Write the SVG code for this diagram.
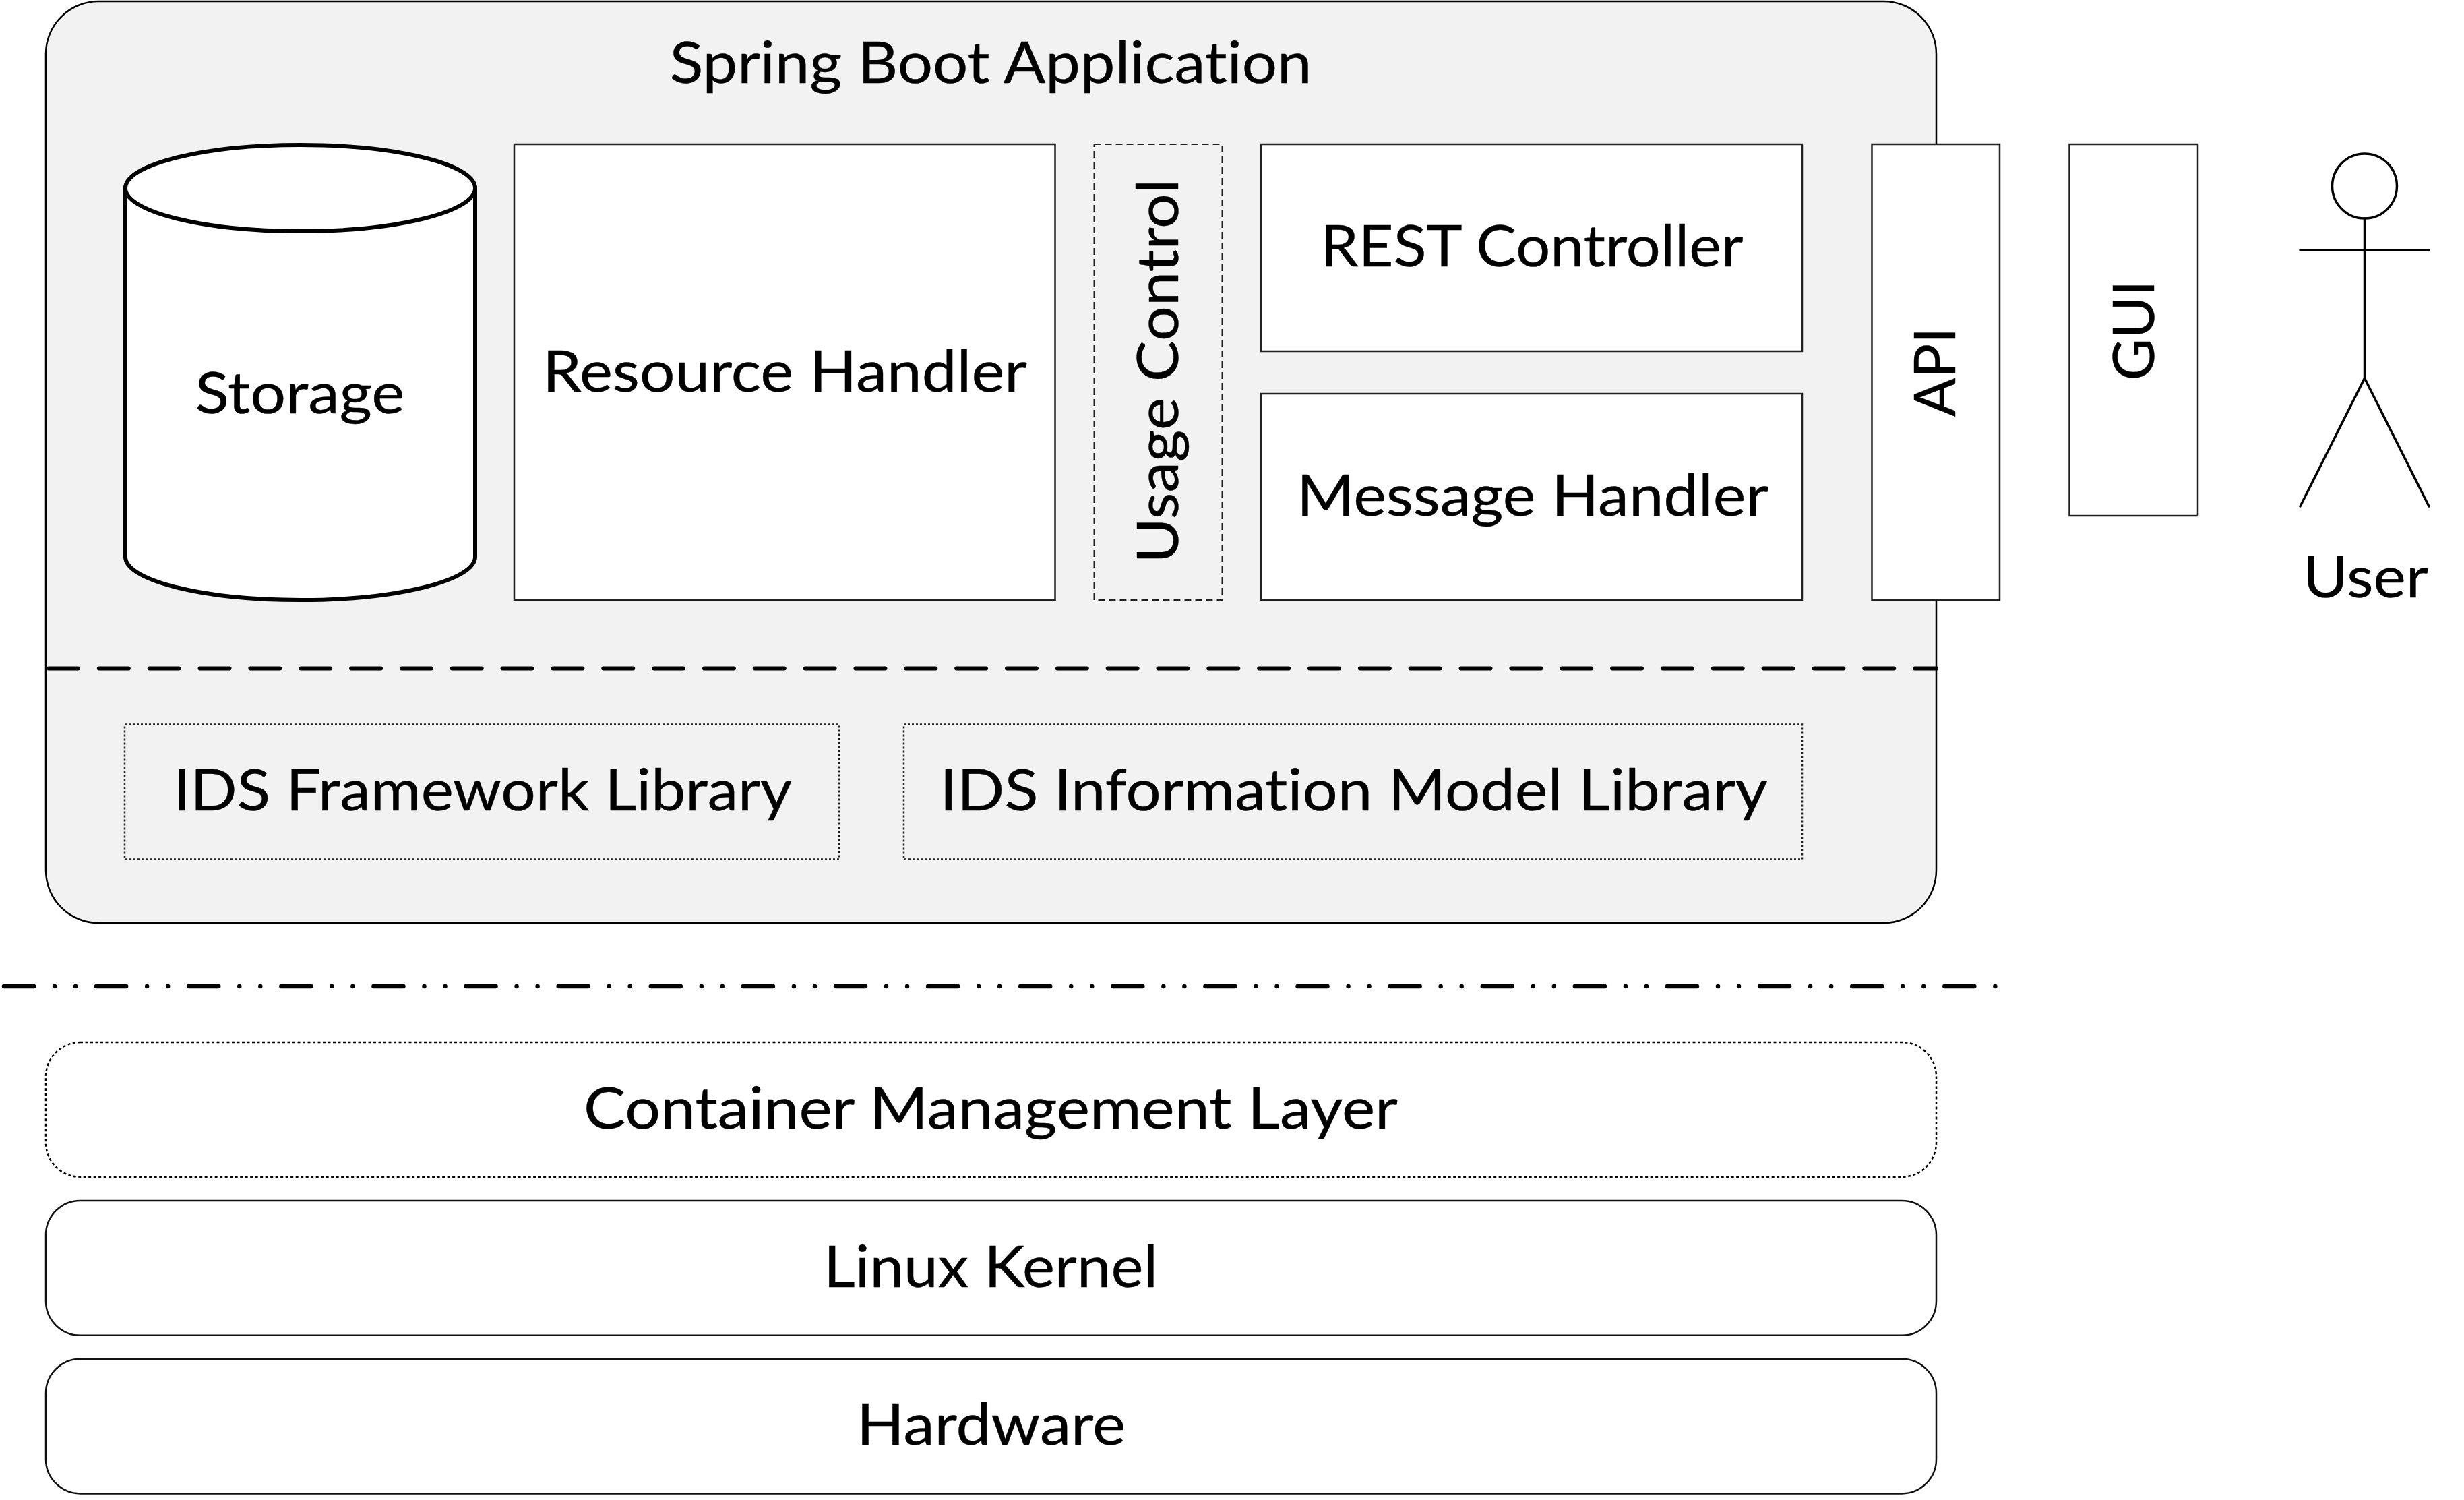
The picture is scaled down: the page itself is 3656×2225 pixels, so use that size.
<svg xmlns="http://www.w3.org/2000/svg" width="3656" height="2225" viewBox="0 0 3656 2225">
<style>
text{font-family:"Lato","Open Sans","Liberation Sans",sans-serif;font-size:86px;fill:#000;stroke:#000;stroke-width:0.4;text-anchor:middle;font-variant-ligatures:none}
.box{fill:#fff;stroke:#222;stroke-width:2.5}
.lib{fill:#f2f2f2;stroke:#222;stroke-width:2.5;stroke-dasharray:3 3}
.layer{fill:#fff;stroke:#111;stroke-width:2.5}
.fig{fill:none;stroke:#000;stroke-width:3.5;stroke-linecap:round}
</style>
<rect width="3656" height="2225" fill="#fff"/>
<g id="spring-boot-application">
<rect x="68" y="2" width="2805" height="1367" rx="78" ry="78" fill="#f2f2f2" stroke="#000" stroke-width="2.500"/>
<text x="1470" y="123" textLength="953" lengthAdjust="spacingAndGlyphs">Spring Boot Application</text>
</g>
<g id="connectors">
<line id="app-divider" x1="72" y1="991.500" x2="2873" y2="991.500" stroke="#000" stroke-width="6" stroke-linecap="round" stroke-dasharray="44 30.840"/>
<line id="system-divider" x1="6" y1="1463" x2="2964" y2="1463" stroke="#000" stroke-width="6.500" stroke-linecap="round" stroke-dasharray="44 31.030 0.01 31.030 0.01 31.030"/>
</g>
<g id="storage">
<path d="M186 279V826A259.500 64 0 0 0 705 826V279Z" fill="#fff" stroke="#000" stroke-width="6"/>
<ellipse cx="445.500" cy="279" rx="259.500" ry="64" fill="#fff" stroke="#000" stroke-width="6"/>
<text x="445" y="613" textLength="311" lengthAdjust="spacingAndGlyphs">Storage</text>
</g>
<g id="resource-handler">
<rect class="box" x="763" y="214" width="802.500" height="676"/>
<text x="1164.500" y="581" textLength="719" lengthAdjust="spacingAndGlyphs">Resource Handler</text>
</g>
<g id="usage-control">
<rect x="1623.500" y="214" width="190" height="676" fill="#f2f2f2" stroke="#222" stroke-width="2" stroke-dasharray="10 6"/>
<text transform="translate(1748 550.500) rotate(-90)" textLength="570" lengthAdjust="spacingAndGlyphs">Usage Control</text>
</g>
<g id="rest-controller">
<rect class="box" x="1871" y="214" width="803" height="307"/>
<text x="2273" y="395" textLength="627" lengthAdjust="spacingAndGlyphs">REST Controller</text>
</g>
<g id="message-handler">
<rect class="box" x="1871" y="584" width="803" height="306"/>
<text x="2274" y="765" textLength="700" lengthAdjust="spacingAndGlyphs">Message Handler</text>
</g>
<g id="api">
<rect class="box" x="2777.500" y="214" width="189.500" height="676"/>
<text transform="translate(2901 552) rotate(-90)" textLength="132" lengthAdjust="spacingAndGlyphs">API</text>
</g>
<g id="gui">
<rect class="box" x="3070.500" y="214" width="190.500" height="551"/>
<text transform="translate(3196 490) rotate(-90)" textLength="149" lengthAdjust="spacingAndGlyphs">GUI</text>
</g>
<g id="user">
<ellipse class="fig" cx="3508.500" cy="276" rx="48" ry="48"/>
<path class="fig" d="M3508.500 324V561M3413 371H3604M3413 751L3508.500 561L3604 751"/>
<text x="3510" y="886" textLength="186" lengthAdjust="spacingAndGlyphs">User</text>
</g>
<g id="ids-framework-library">
<rect class="lib" x="185" y="1074.500" width="1060" height="200"/>
<text x="716" y="1202" textLength="918" lengthAdjust="spacingAndGlyphs">IDS Framework Library</text>
</g>
<g id="ids-information-model-library">
<rect class="lib" x="1341" y="1074.500" width="1333" height="200"/>
<text x="2008.500" y="1202" textLength="1228" lengthAdjust="spacingAndGlyphs">IDS Information Model Library</text>
</g>
<g id="container-management-layer">
<rect x="68" y="1546" width="2805" height="199.700" rx="51" ry="51" fill="#fff" stroke="#000" stroke-width="2.500" stroke-dasharray="4 3.500"/>
<text x="1470" y="1674" textLength="1208" lengthAdjust="spacingAndGlyphs">Container Management Layer</text>
</g>
<g id="linux-kernel">
<rect class="layer" x="68" y="1781" width="2805" height="199.700" rx="51" ry="51"/>
<text x="1470" y="1909" textLength="496" lengthAdjust="spacingAndGlyphs">Linux Kernel</text>
</g>
<g id="hardware">
<rect class="layer" x="68" y="2015.700" width="2805" height="199.700" rx="51" ry="51"/>
<text x="1470.500" y="2143" textLength="399" lengthAdjust="spacingAndGlyphs">Hardware</text>
</g>
</svg>
